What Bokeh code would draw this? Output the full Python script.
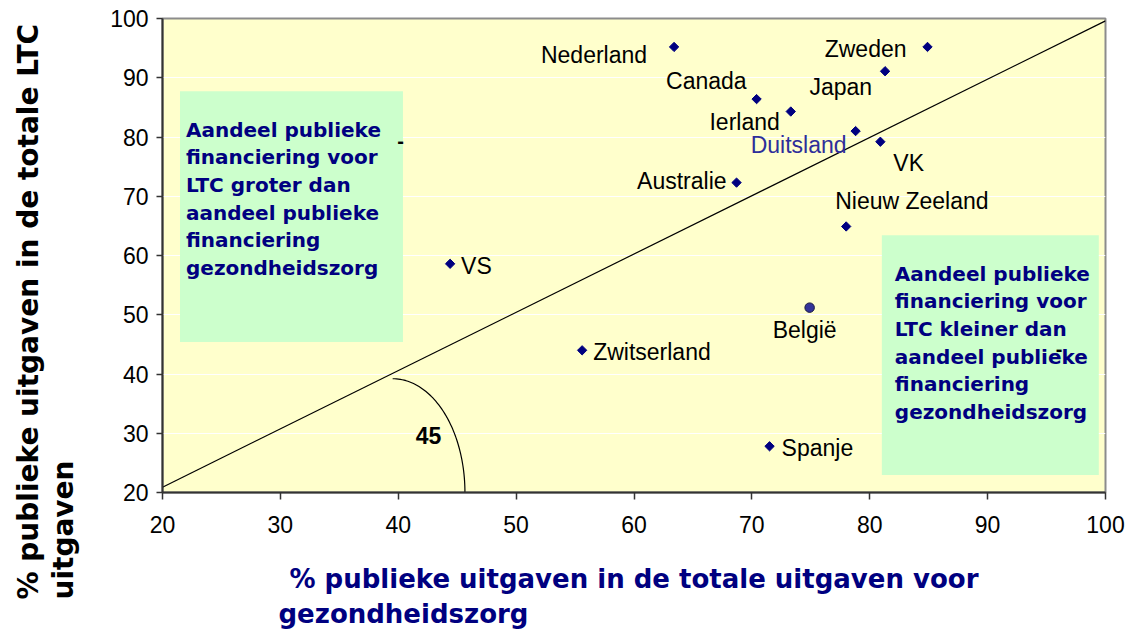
import numpy as np
from bokeh.plotting import figure
from bokeh.models import Range1d, Title, FixedTicker, LinearAxis
from bokeh.core.properties import value
from bokeh.embed import file_html
from bokeh.resources import INLINE

# ---------------- data ----------------
countries = ["Nederland", "Zweden", "Japan", "Canada", "Ierland", "Duitsland", "VK",
             "Australie", "Nieuw Zeeland", "VS", "Zwitserland", "België", "Spanje"]
health_public = [63.4, 84.9, 81.3, 70.4, 73.3, 78.8, 80.9, 68.7, 78.0, 44.4, 55.6, 74.9, 71.5]
ltc_public = [95.2, 95.2, 91.1, 86.4, 84.3, 81.0, 79.2, 72.3, 64.9, 58.6, 44.0, 51.2, 27.8]
highlight = "België"

x_ticks = [20, 30, 40, 50, 60, 70, 80, 90, 100]
y_ticks = [20, 30, 40, 50, 60, 70, 80, 90, 100]

diag_x = [20, 100]
diag_y = [20.9, 99.6]

box_left_text = "Aandeel publieke\nfinanciering voor\nLTC  groter dan\naandeel publieke\nfinanciering\ngezondheidszorg"
box_right_text = "Aandeel publieke\nfinanciering voor\nLTC kleiner dan\naandeel publieke\nfinanciering\ngezondheidszorg"
angle_text = "45"
y_title = ["% publieke uitgaven in de totale LTC", "uitgaven"]
x_title = ["% publieke uitgaven in de totale uitgaven voor", "gezondheidszorg"]

# ---------------- styles / layout ----------------
NAVY = "#000080"
BG = "#FFFFCC"
GREEN = "#CCFFCC"

# label placement (pixel offsets from the point, alignment, colour)
label_style = {
    "Nederland":     (-27, 8, "right", "black"),
    "Zweden":        (-21, 2, "right", "black"),
    "Japan":         (-13, 16, "right", "black"),
    "Canada":        (-10, -18, "right", "black"),
    "Ierland":       (-11, 10, "right", "black"),
    "Duitsland":     (-9, 14, "right", "#2E2E9A"),
    "VK":            (13, 21, "left", "black"),
    "Australie":     (-10, -2, "right", "black"),
    "Nieuw Zeeland": (-11, -25, "left", "black"),
    "VS":            (11, 2, "left", "black"),
    "Zwitserland":   (11, 2, "left", "black"),
    "België":        (-5, 22, "center", "black"),
    "Spanje":        (12, 2, "left", "black"),
}

# pixel -> data helpers (for annotation placement only)
PX_L, PX_R, PX_T, PX_B = 162.5, 1105.7, 18.3, 492.0
def dx(px):
    return 20 + (px - PX_L) * 80.0 / (PX_R - PX_L)
def dy(py):
    return 100 - (py - PX_T) * 80.0 / (PX_B - PX_T)

p = figure(width=1127, height=629, output_backend="svg", toolbar_location=None,
           x_range=Range1d(20, 100), y_range=Range1d(20, 100),
           min_border_left=162, min_border_right=22, min_border_top=18, min_border_bottom=137)
p.background_fill_color = BG
p.border_fill_color = "white"
p.outline_line_color = "#8C8C8C"
p.outline_line_width = 2

p.xgrid.visible = False
p.ygrid.grid_line_color = "white"
p.ygrid.grid_line_width = 1
p.ygrid.ticker = FixedTicker(ticks=y_ticks)

for ax in (p.xaxis[0], p.yaxis[0]):
    ax.axis_line_color = "#333333"
    ax.axis_line_width = 2
    ax.major_tick_line_color = "#333333"
    ax.major_tick_line_width = 1.5
    ax.major_tick_in = 0
    ax.minor_tick_line_color = None
    ax.major_label_text_font = "Liberation Sans"
    ax.major_label_text_font_size = "23px"
    ax.major_label_text_color = "black"
p.xaxis.ticker = FixedTicker(ticks=x_ticks)
p.yaxis.ticker = FixedTicker(ticks=y_ticks)
p.xaxis.major_tick_out = 7
p.yaxis.major_tick_out = 6
p.xaxis.major_label_standoff = 16
p.yaxis.major_label_standoff = 8

# x title, first line as the axis label
p.xaxis.axis_label = x_title[0]
p.xaxis.axis_label_text_font = "DejaVu Sans"
p.xaxis.axis_label_text_font_style = "bold"
p.xaxis.axis_label_text_font_size = "26px"
p.xaxis.axis_label_text_color = NAVY
p.xaxis.axis_label_standoff = 28

# green boxes
p.quad(left=[dx(180)], right=[dx(403)], top=[dy(91)], bottom=[dy(341.5)],
       fill_color=GREEN, line_color=None)
p.quad(left=[dx(882)], right=[dx(1099)], top=[dy(235)], bottom=[dy(474.5)],
       fill_color=GREEN, line_color=None)

# 45 degree line and angle arc
p.line(diag_x, diag_y, line_color="black", line_width=1.2)
t = np.linspace(0, np.pi / 2, 60)
cx, cy = dx(392.7), 20.0
rx, ry = dx(465) - dx(392.7), dy(378.3) - 20.0
p.line(cx + rx * np.sin(t), cy + ry * np.cos(t), line_color="black", line_width=1.2)
p.text(x=[dx(428.5)], y=[dy(435)], text=[angle_text], text_align="center",
       text_baseline="middle", text_font=value("Liberation Sans"), text_font_style="bold",
       text_font_size="23px", text_color="black")

# box texts
p.text(x=[dx(186)], y=[dy(198.5)], text=[box_left_text], text_align="left",
       text_baseline="middle", text_font=value("DejaVu Sans"), text_font_style="bold",
       text_font_size="20px", text_color=NAVY, text_line_height=1.15)
p.text(x=[dx(895)], y=[dy(342.5)], text=[box_right_text], text_align="left",
       text_baseline="middle", text_font=value("DejaVu Sans"), text_font_style="bold",
       text_font_size="20px", text_color=NAVY, text_line_height=1.15)
# stray dashes
p.text(x=[dx(400.7), dx(1059.3)], y=[dy(140.7), dy(348.3)], text=["-", "-"],
       text_align="center", text_baseline="middle", text_font=value("Liberation Sans"),
       text_font_style="bold", text_font_size="20px", text_color="black")

# points
mx = [x for x, c in zip(health_public, countries) if c != highlight]
my = [y for y, c in zip(ltc_public, countries) if c != highlight]
p.scatter(mx, my, marker="square", angle=np.pi / 4, size=6.6,
          fill_color=NAVY, line_color=NAVY)
bx = [x for x, c in zip(health_public, countries) if c == highlight]
by = [y for y, c in zip(ltc_public, countries) if c == highlight]
p.scatter(bx, by, marker="circle", size=9.5, fill_color="#333399", line_color="#1a1a40",
          line_width=1)

# country labels
for name, xv, yv in zip(countries, health_public, ltc_public):
    ox, oy, al, col = label_style[name]
    p.text(x=[xv], y=[yv], text=[name], x_offset=ox, y_offset=oy, text_align=al,
           text_baseline="middle", text_font=value("Liberation Sans"),
           text_font_size="23px", text_color=col)

# invisible spacer axis between the y axis and the y title
spacer = LinearAxis(ticker=FixedTicker(ticks=[60]), axis_line_color=None,
                    major_tick_line_color=None, minor_tick_line_color=None,
                    major_tick_out=28, major_tick_in=0, major_label_standoff=0,
                    major_label_overrides={60: ""}, major_label_text_font_size="1px")
p.add_layout(spacer, "left")

# y title lines and x title second line as side-panel titles
tkw = dict(text_font="DejaVu Sans", text_font_style="bold", standoff=0)
p.add_layout(Title(text=y_title[1], align="left", offset=-107,
                   text_font_size="28px", text_color="black", **tkw), "left")
p.add_layout(Title(text=y_title[0], align="left", offset=-107,
                   text_font_size="28px", text_color="black", **tkw), "left")
p.add_layout(Title(text=x_title[1], align="left", offset=116,
                   text_font_size="26px", text_color=NAVY, **tkw), "below")

open("out.html", "w").write(file_html(p, INLINE))
